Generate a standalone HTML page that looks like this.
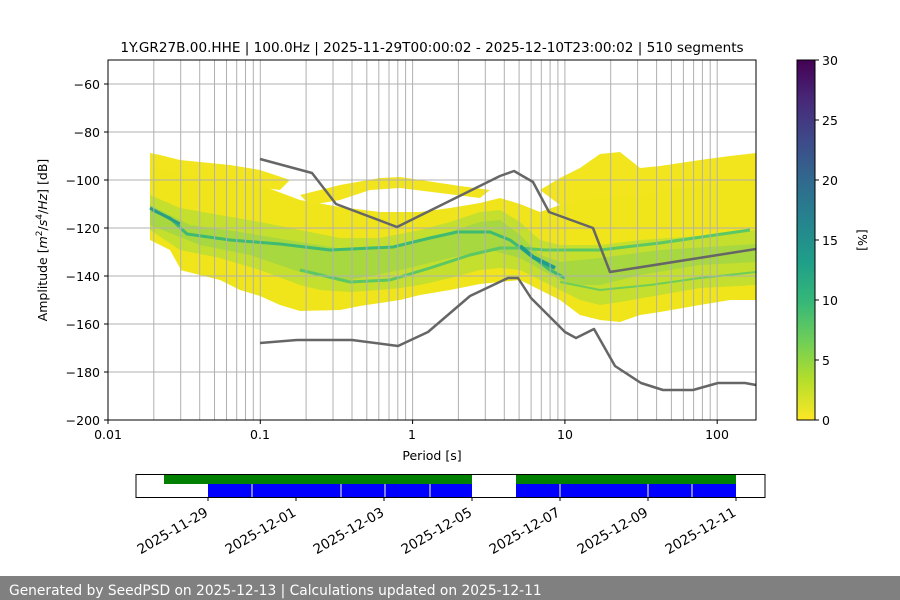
<!DOCTYPE html>
<html><head><meta charset="utf-8"><style>
html,body{margin:0;padding:0;background:#fff;width:900px;height:600px;overflow:hidden}
svg text{font-family:"DejaVu Sans","Liberation Sans",sans-serif;fill:#000}
</style></head><body>
<svg width="900" height="600" viewBox="0 0 900 600" xmlns="http://www.w3.org/2000/svg">
<defs>
<linearGradient id="vir" x1="0" y1="1" x2="0" y2="0">
<stop offset="0" stop-color="#fde725"/><stop offset="0.11" stop-color="#b5de2b"/><stop offset="0.22" stop-color="#6ece58"/><stop offset="0.33" stop-color="#35b779"/><stop offset="0.44" stop-color="#1f9e89"/><stop offset="0.56" stop-color="#26828e"/><stop offset="0.67" stop-color="#31688e"/><stop offset="0.78" stop-color="#3e4989"/><stop offset="0.89" stop-color="#482878"/><stop offset="1" stop-color="#440154"/>
</linearGradient>
<clipPath id="pc"><rect x="108" y="60" width="648" height="360"/></clipPath>
</defs>
<text x="432" y="52" font-size="13.6" text-anchor="middle">1Y.GR27B.00.HHE | 100.0Hz | 2025-11-29T00:00:02 - 2025-12-10T23:00:02 | 510 segments</text>
<g clip-path="url(#pc)">
<g fill="#f2e51d">
<polygon points="150,153 160,155 180,160 200,162 230,165 260,170 290,180 280,190 240,185 200,182 150,178"/>
<polygon points="300,195 340,185 380,178 400,177 420,180 460,186 490,190 480,198 440,193 400,188 370,190 340,200 310,205"/>
<polygon points="540,190 560,178 580,168 600,154 620,152 640,168 660,166 700,160 730,156 756,153 756,200 600,205 560,205"/>
</g>
<polygon fill="#f0e51b" points="150,165 180,175 220,180 260,185 300,200 340,207 380,212 420,212 450,208 480,203 500,198 520,204 540,212 560,205 580,200 600,198 640,195 700,185 756,178 756,300 730,300 700,305 660,312 640,315 620,322 600,320 580,315 560,300 540,290 520,280 500,282 480,284 450,290 420,295 400,300 380,303 360,306 340,310 300,311 280,305 260,296 240,290 220,280 180,270 180,268 170,250 150,240"/>
<polygon fill="#c4df2e" points="150,195 180,208 220,215 260,222 300,230 340,238 380,238 420,230 450,222 480,212 500,210 520,222 540,240 560,245 600,245 640,240 700,236 756,230 756,285 700,288 660,295 620,302 600,305 580,300 560,290 540,280 520,270 500,268 480,270 450,278 420,285 400,288 380,290 350,292 320,290 300,285 260,270 220,258 180,250 150,230"/>
<polygon fill="#9dd545" opacity="0.75" points="150,205 190,225 240,232 300,242 350,250 400,246 440,235 480,222 500,220 520,235 540,255 560,262 600,258 660,250 756,244 756,262 700,265 640,275 600,285 570,285 545,272 520,258 490,250 450,258 400,270 350,280 300,272 250,255 200,245 150,225"/>
<g fill="none" stroke-linejoin="round">
<polyline stroke="#3fba72" stroke-width="3" points="152,210 170,218 187,234 230,240 280,244 330,250 393,247 430,238 457,232 490,232 510,240 533,257 550,270 565,278"/>
<polyline stroke="#5cc863" stroke-width="3" points="300,270 350,282 390,280 430,268 470,255 500,248 520,248 545,250 600,250 660,243 750,230"/>
<polyline stroke="#6ece58" stroke-width="2" points="560,282 600,290 650,285 700,278 756,272"/>
<polyline stroke="#1f9e89" stroke-width="4" points="520,246 533,257 545,263 555,268"/>
<polyline stroke="#2a9d85" stroke-width="3" points="150,208 165,216 180,224"/>
</g>
</g>
<g stroke="#b0b0b0" stroke-width="1">
<path d="M153.8,60V420M180.7,60V420M199.7,60V420M214.5,60V420M226.5,60V420M236.7,60V420M245.5,60V420M253.3,60V420M260.3,60V420M306.1,60V420M333,60V420M352,60V420M366.8,60V420M378.8,60V420M389,60V420M397.8,60V420M405.6,60V420M412.6,60V420M458.4,60V420M485.3,60V420M504.3,60V420M519.1,60V420M531.1,60V420M541.3,60V420M550.1,60V420M557.9,60V420M564.9,60V420M610.7,60V420M637.6,60V420M656.6,60V420M671.4,60V420M683.4,60V420M693.6,60V420M702.4,60V420M710.2,60V420M717.2,60V420"/>
<path d="M108,84H756M108,132H756M108,180H756M108,228H756M108,276H756M108,324H756M108,372H756"/>
</g>
<g fill="none" stroke="#666" stroke-width="2.5" stroke-linejoin="round">
<polyline points="260,159 312,173 336,204 397,227 500,176 514,171 533,182 549,212 593,228 610,272 756,249"/>
<polyline points="260,343 297,340 352,340 398,346 428,332 470,296 508,278 518,278 531,298 565,332 576,338 594,329 615,366 641,383 663,390 693,390 718,383 745,383 756,385"/>
</g>
<rect x="108" y="60" width="648" height="360" fill="none" stroke="#000" stroke-width="1"/>
<g stroke="#000"><path d="M104,84H108M104,132H108M104,180H108M104,228H108M104,276H108M104,324H108M104,372H108M104,420H108"/>
<path d="M108,420V424M260.3,420V424M412.6,420V424M564.9,420V424M717.2,420V424"/></g>
<g font-size="12.5" text-anchor="end">
<text x="100" y="89">−60</text><text x="100" y="137">−80</text><text x="100" y="185">−100</text><text x="100" y="233">−120</text><text x="100" y="281">−140</text><text x="100" y="329">−160</text><text x="100" y="377">−180</text><text x="100" y="425">−200</text>
</g>
<g font-size="12.5" text-anchor="middle">
<text x="108" y="439">0.01</text><text x="260" y="439">0.1</text><text x="412" y="439">1</text><text x="565" y="439">10</text><text x="717" y="439">100</text>
<text x="432" y="460">Period [s]</text>
</g>
<text transform="translate(47,240) rotate(-90)" font-size="12.5" text-anchor="middle">Amplitude [<tspan font-style="italic">m</tspan><tspan font-size="9" dy="-5">2</tspan><tspan dy="5">/</tspan><tspan font-style="italic">s</tspan><tspan font-size="9" dy="-5">4</tspan><tspan dy="5">/</tspan><tspan font-style="italic">Hz</tspan>] [dB]</text>
<rect x="797" y="60" width="18" height="360" fill="url(#vir)" stroke="#000" stroke-width="1"/>
<g stroke="#000"><path d="M815,60H819M815,120H819M815,180H819M815,240H819M815,300H819M815,360H819M815,420H819"/></g>
<g font-size="12.5"><text x="822" y="65">30</text><text x="822" y="125">25</text><text x="822" y="185">20</text><text x="822" y="245">15</text><text x="822" y="305">10</text><text x="822" y="365">5</text><text x="822" y="425">0</text></g>
<text transform="translate(858,240) rotate(90)" font-size="12.5" text-anchor="middle">[%]</text>
<rect x="164" y="475" width="308" height="9" fill="#008000"/><rect x="516" y="475" width="220" height="9" fill="#008000"/>
<rect x="208" y="484" width="264" height="13" fill="#0000ff"/><rect x="516" y="484" width="220" height="13" fill="#0000ff"/>
<g stroke="#fff" stroke-width="1"><path d="M252,484V497M341,484V497M385,484V497M430,484V497M560,484V497M648,484V497M692,484V497"/></g>
<rect x="136" y="474.5" width="629" height="23" fill="none" stroke="#000" stroke-width="1"/>
<g stroke="#000"><path d="M208,497V501M296,497V501M384,497V501M472,497V501M560,497V501M648,497V501M736,497V501"/></g>
<g font-size="13.6" text-anchor="end">
<text transform="translate(209,515) rotate(-30)">2025-11-29</text>
<text transform="translate(297,515) rotate(-30)">2025-12-01</text>
<text transform="translate(385,515) rotate(-30)">2025-12-03</text>
<text transform="translate(473,515) rotate(-30)">2025-12-05</text>
<text transform="translate(561,515) rotate(-30)">2025-12-07</text>
<text transform="translate(649,515) rotate(-30)">2025-12-09</text>
<text transform="translate(737,515) rotate(-30)">2025-12-11</text>
</g>
<rect x="0" y="576" width="900" height="24" fill="#808080"/>
<text x="9" y="595" font-size="13.8" style="fill:#fff">Generated by SeedPSD on 2025-12-13 | Calculations updated on 2025-12-11</text>
</svg>
</body></html>
